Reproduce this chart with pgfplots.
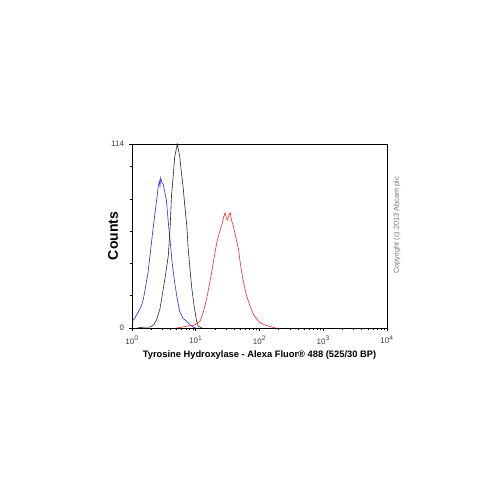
\documentclass[border=0pt]{standalone}
\usepackage{pgfplots}
\pgfplotsset{compat=1.18}
\usepackage{fontspec}
\setmainfont{Liberation Sans}
\setsansfont{Liberation Sans}
\definecolor{histblue}{RGB}{40,40,235}
\definecolor{histred}{RGB}{245,40,40}

\begin{document}
\begin{tikzpicture}
  % page frame: 500 x 500 px at 0.75pt per px
  \path (0pt,0pt) rectangle (375pt,375pt);
  \begin{axis}[
    at={(99pt,129pt)}, anchor=south west,
    scale only axis, width=191.25pt, height=138pt,
    xmode=log, xmin=1, xmax=10000,
    ymin=0, ymax=114,
    ytick={0,114}, minor ytick={20,40,60,80,100},
    xtick={1,10,100,1000,10000},
    xticklabels={10\textsuperscript{0},10\textsuperscript{1},10\textsuperscript{2},10\textsuperscript{3},10\textsuperscript{4}},
    xtick pos=bottom, ytick pos=left,
    tick align=outside,
    major tick length=2.5pt, minor tick length=1.5pt,
    axis line style={line width=0.5pt},
    tick style={line width=0.4pt, black},
    tick label style={font=\fontsize{6}{7}\selectfont, color=black!75},
    /pgf/number format/assume math mode=true,
    xlabel={\textbf{Tyrosine Hydroxylase - Alexa Fluor\textregistered\ 488 (525/30 BP)}},
    xlabel style={font=\fontsize{7}{8}\selectfont, yshift=2pt},
    ylabel={\textbf{Counts}},
    ylabel style={font=\fontsize{10.5}{12}\selectfont, yshift=-12pt},
    clip=true,
  ]
    % blue
    \addplot[histblue, line width=0.45pt] coordinates {
      (1.00,4) (1.10,6) (1.26,10) (1.41,14) (1.51,18) (1.66,27) (1.78,34)
      (1.905,44) (2.09,58) (2.29,71) (2.45,80) (2.57,87) (2.69,91) (2.75,88)
      (2.818,93) (2.95,90) (3.09,89) (3.24,85) (3.467,79) (3.63,70) (3.80,61)
      (3.945,55) (4.27,40) (4.677,28) (5.13,18) (5.623,10) (6.31,6) (7.244,4)
      (8.13,2) (9.12,0.5) (10.0,0)
    };
    % black
    \addplot[black!85, line width=0.45pt] coordinates {
      (1.20,0) (1.51,0.5) (1.905,0.5) (2.19,2) (2.455,5.5) (2.75,12) (3.09,24)
      (3.39,34) (3.715,45) (3.98,64) (4.169,82) (4.47,96) (4.677,106)
      (4.90,110) (5.129,114) (5.37,110) (5.623,106) (5.89,98) (6.31,88)
      (6.76,75) (7.244,63) (7.59,50) (8.128,36) (8.71,24) (9.55,12)
      (10.23,5) (10.96,1) (12.59,0)
    };
    % red
    \addplot[histred, line width=0.45pt] coordinates {
      (5.01,0) (6.0,0.5) (7.08,1) (8.1,1.5) (9.12,1.4) (10.5,3) (11.75,4.5)
      (13.18,10) (14.79,18) (16.22,26) (17.78,34.5) (19.5,44) (21.38,53)
      (23.44,59) (25.70,64) (27.5,69) (28.84,71.4) (30.2,68) (31.62,67)
      (33.1,70) (34.67,71.4) (36.3,67) (38.90,63) (42.66,56) (46.77,48.8)
      (50.1,40) (54.95,30) (61.66,21) (70.79,13.7) (81.28,8) (100,3.5)
      (120,2) (144.5,1) (177.8,0)
    };
  \end{axis}
  \node[rotate=90, font=\fontsize{5.5}{6}\selectfont, text=black!55]
    at (297.75pt,206pt) {Copyright (c) 2013 Abcam plc};
\end{tikzpicture}
\end{document}
